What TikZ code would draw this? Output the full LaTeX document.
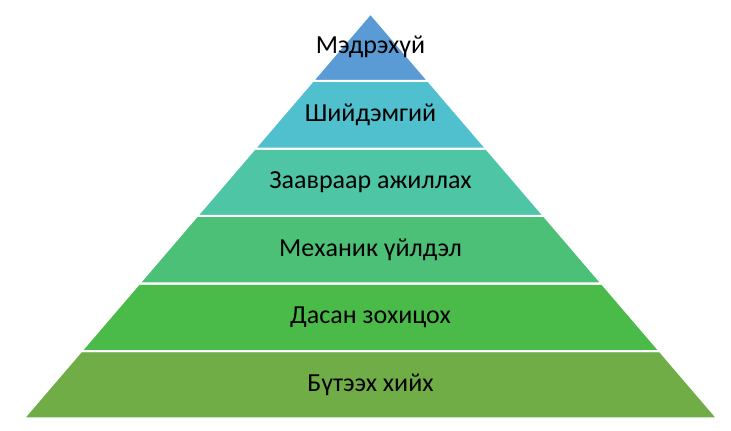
\documentclass[tikz,border=0pt]{standalone}
\usepackage{fontspec}
\setmainfont{Carlito}
\usetikzlibrary{calc}
\definecolor{layA}{RGB}{112,173,71}
\definecolor{layB}{RGB}{74,186,72}
\definecolor{layC}{RGB}{75,192,118}
\definecolor{layD}{RGB}{78,198,166}
\definecolor{layE}{RGB}{80,192,206}
\definecolor{layF}{RGB}{91,155,213}
\tikzset{band/.style={draw=white, line width=2pt, line join=miter}}
\begin{document}
\begin{tikzpicture}[x=1pt,y=1pt,font=\fontsize{26}{30}\selectfont]
\useasboundingbox (0,0) rectangle (731,431);
\coordinate (apex) at (370.5,417.5);
\coordinate (baseL) at (23.5,12.5);
\coordinate (baseR) at (717.5,12.5);
\foreach \i/\c/\t in {0/layA/Бүтээх хийх, 1/layB/Дасан зохицох, 2/layC/Механик үйлдэл,
  3/layD/Заавраар ажиллах, 4/layE/Шийдэмгий, 5/layF/Мэдрэхүй}{
  \pgfmathsetmacro{\lo}{\i/6}
  \pgfmathsetmacro{\hi}{(\i+1)/6}
  \fill[\c, band] ($(baseL)!\lo!(apex)$) -- ($(baseR)!\lo!(apex)$)
    -- ($(baseR)!\hi!(apex)$) -- ($(baseL)!\hi!(apex)$) -- cycle;
  \node (lvl\i) at (370.5,{12.5+67.5*(\i+0.5)}) {\t};
}
\end{tikzpicture}
\end{document}
